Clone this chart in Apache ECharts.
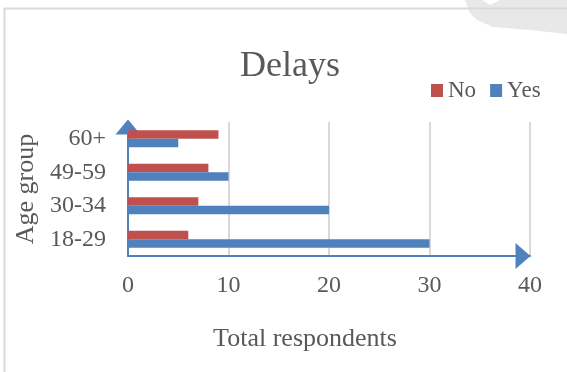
<!DOCTYPE html>
<html>
<head>
<meta charset="utf-8">
<title>Delays</title>
<script src="https://cdn.jsdelivr.net/npm/echarts@6/dist/echarts.min.js"></script>
<style>
  html, body { margin: 0; padding: 0; background: #ffffff; }
  #chart { width: 567px; height: 372px; }
</style>
</head>
<body>
<div id="chart"></div>
<script>
// Age groups, bottom to top
const ageGroups = ['18-29', '30-34', '49-59', '60+'];
// Respondents reporting delays
const noValues = [6, 7, 8, 9];
const yesValues = [30, 20, 10, 5];
// Horizontal axis ticks
const xTicks = [0, 10, 20, 30, 40];

const FONT = '"Liberation Serif", "Times New Roman", serif';
const TEXT = '#595959';
const RED = '#C0504D';
const BLUE = '#4F81BD';

const chart = echarts.init(document.getElementById('chart'), null, { renderer: 'canvas' });

chart.setOption({
  backgroundColor: '#ffffff',
  animation: false,
  title: {
    text: 'Delays',
    left: 240,
    top: 49,
    padding: 0,
    textStyle: { fontFamily: FONT, fontSize: 36, fontWeight: 'normal', color: TEXT }
  },
  legend: {
    data: ['No', 'Yes'],
    left: 431,
    top: 79,
    padding: 0,
    itemWidth: 12,
    itemHeight: 13,
    itemGap: 14,
    icon: 'rect',
    textStyle: { fontFamily: FONT, fontSize: 23, color: TEXT }
  },
  grid: { left: 128, right: 37, top: 122, bottom: 116, containLabel: false },
  xAxis: {
    type: 'value',
    min: xTicks[0],
    max: xTicks[xTicks.length - 1],
    interval: xTicks[1] - xTicks[0],
    name: 'Total respondents',
    nameLocation: 'middle',
    nameGap: 70,
    nameTextStyle: { fontFamily: FONT, fontSize: 26, color: TEXT, padding: [0, 48, 0, 0] },
    axisLine: {
      show: true,
      lineStyle: { color: BLUE, width: 2 },
      symbol: ['none', 'triangle'],
      symbolSize: [26, 15],
      symbolOffset: [0, -7]
    },
    axisTick: { show: false },
    axisLabel: { fontFamily: FONT, fontSize: 24, color: TEXT, margin: 18 },
    splitLine: { show: true, lineStyle: { color: '#d9d9d9', width: 2 } }
  },
  yAxis: {
    type: 'category',
    data: ageGroups,
    name: 'Age group',
    nameLocation: 'middle',
    nameGap: 77,
    nameRotate: 90,
    nameTextStyle: { fontFamily: FONT, fontSize: 26, color: TEXT },
    axisLine: {
      show: true,
      lineStyle: { color: BLUE, width: 2 },
      symbol: ['none', 'triangle'],
      symbolSize: [25, 15],
      symbolOffset: [0, -5]
    },
    axisTick: { show: false },
    axisLabel: { fontFamily: FONT, fontSize: 24, color: TEXT, margin: 22 },
    splitLine: { show: false }
  },
  series: [
    {
      name: 'No',
      type: 'bar',
      data: noValues,
      barWidth: 8.5,
      barGap: '0%',
      itemStyle: { color: RED }
    },
    {
      name: 'Yes',
      type: 'bar',
      data: yesValues,
      barWidth: 8.5,
      barGap: '0%',
      itemStyle: { color: BLUE }
    }
  ],
  graphic: [
    // faint grey swoosh at the top-right corner
    {
      type: 'polygon',
      silent: true,
      z: -2,
      shape: {
        points: [[465, 0], [482, 0], [490, 5], [500, 0], [567, 0], [567, 34],
                 [530, 30], [493, 27], [477, 20], [470, 13]]
      },
      style: { fill: '#e8e8e8' }
    },
    // chart frame (top and left edges)
    {
      type: 'polyline',
      silent: true,
      z: -1,
      shape: { points: [[4.5, 372], [4.5, 8.5], [567, 8.5]] },
      style: { stroke: '#d9d9d9', lineWidth: 2, fill: null }
    }
  ]
});
</script>
</body>
</html>
